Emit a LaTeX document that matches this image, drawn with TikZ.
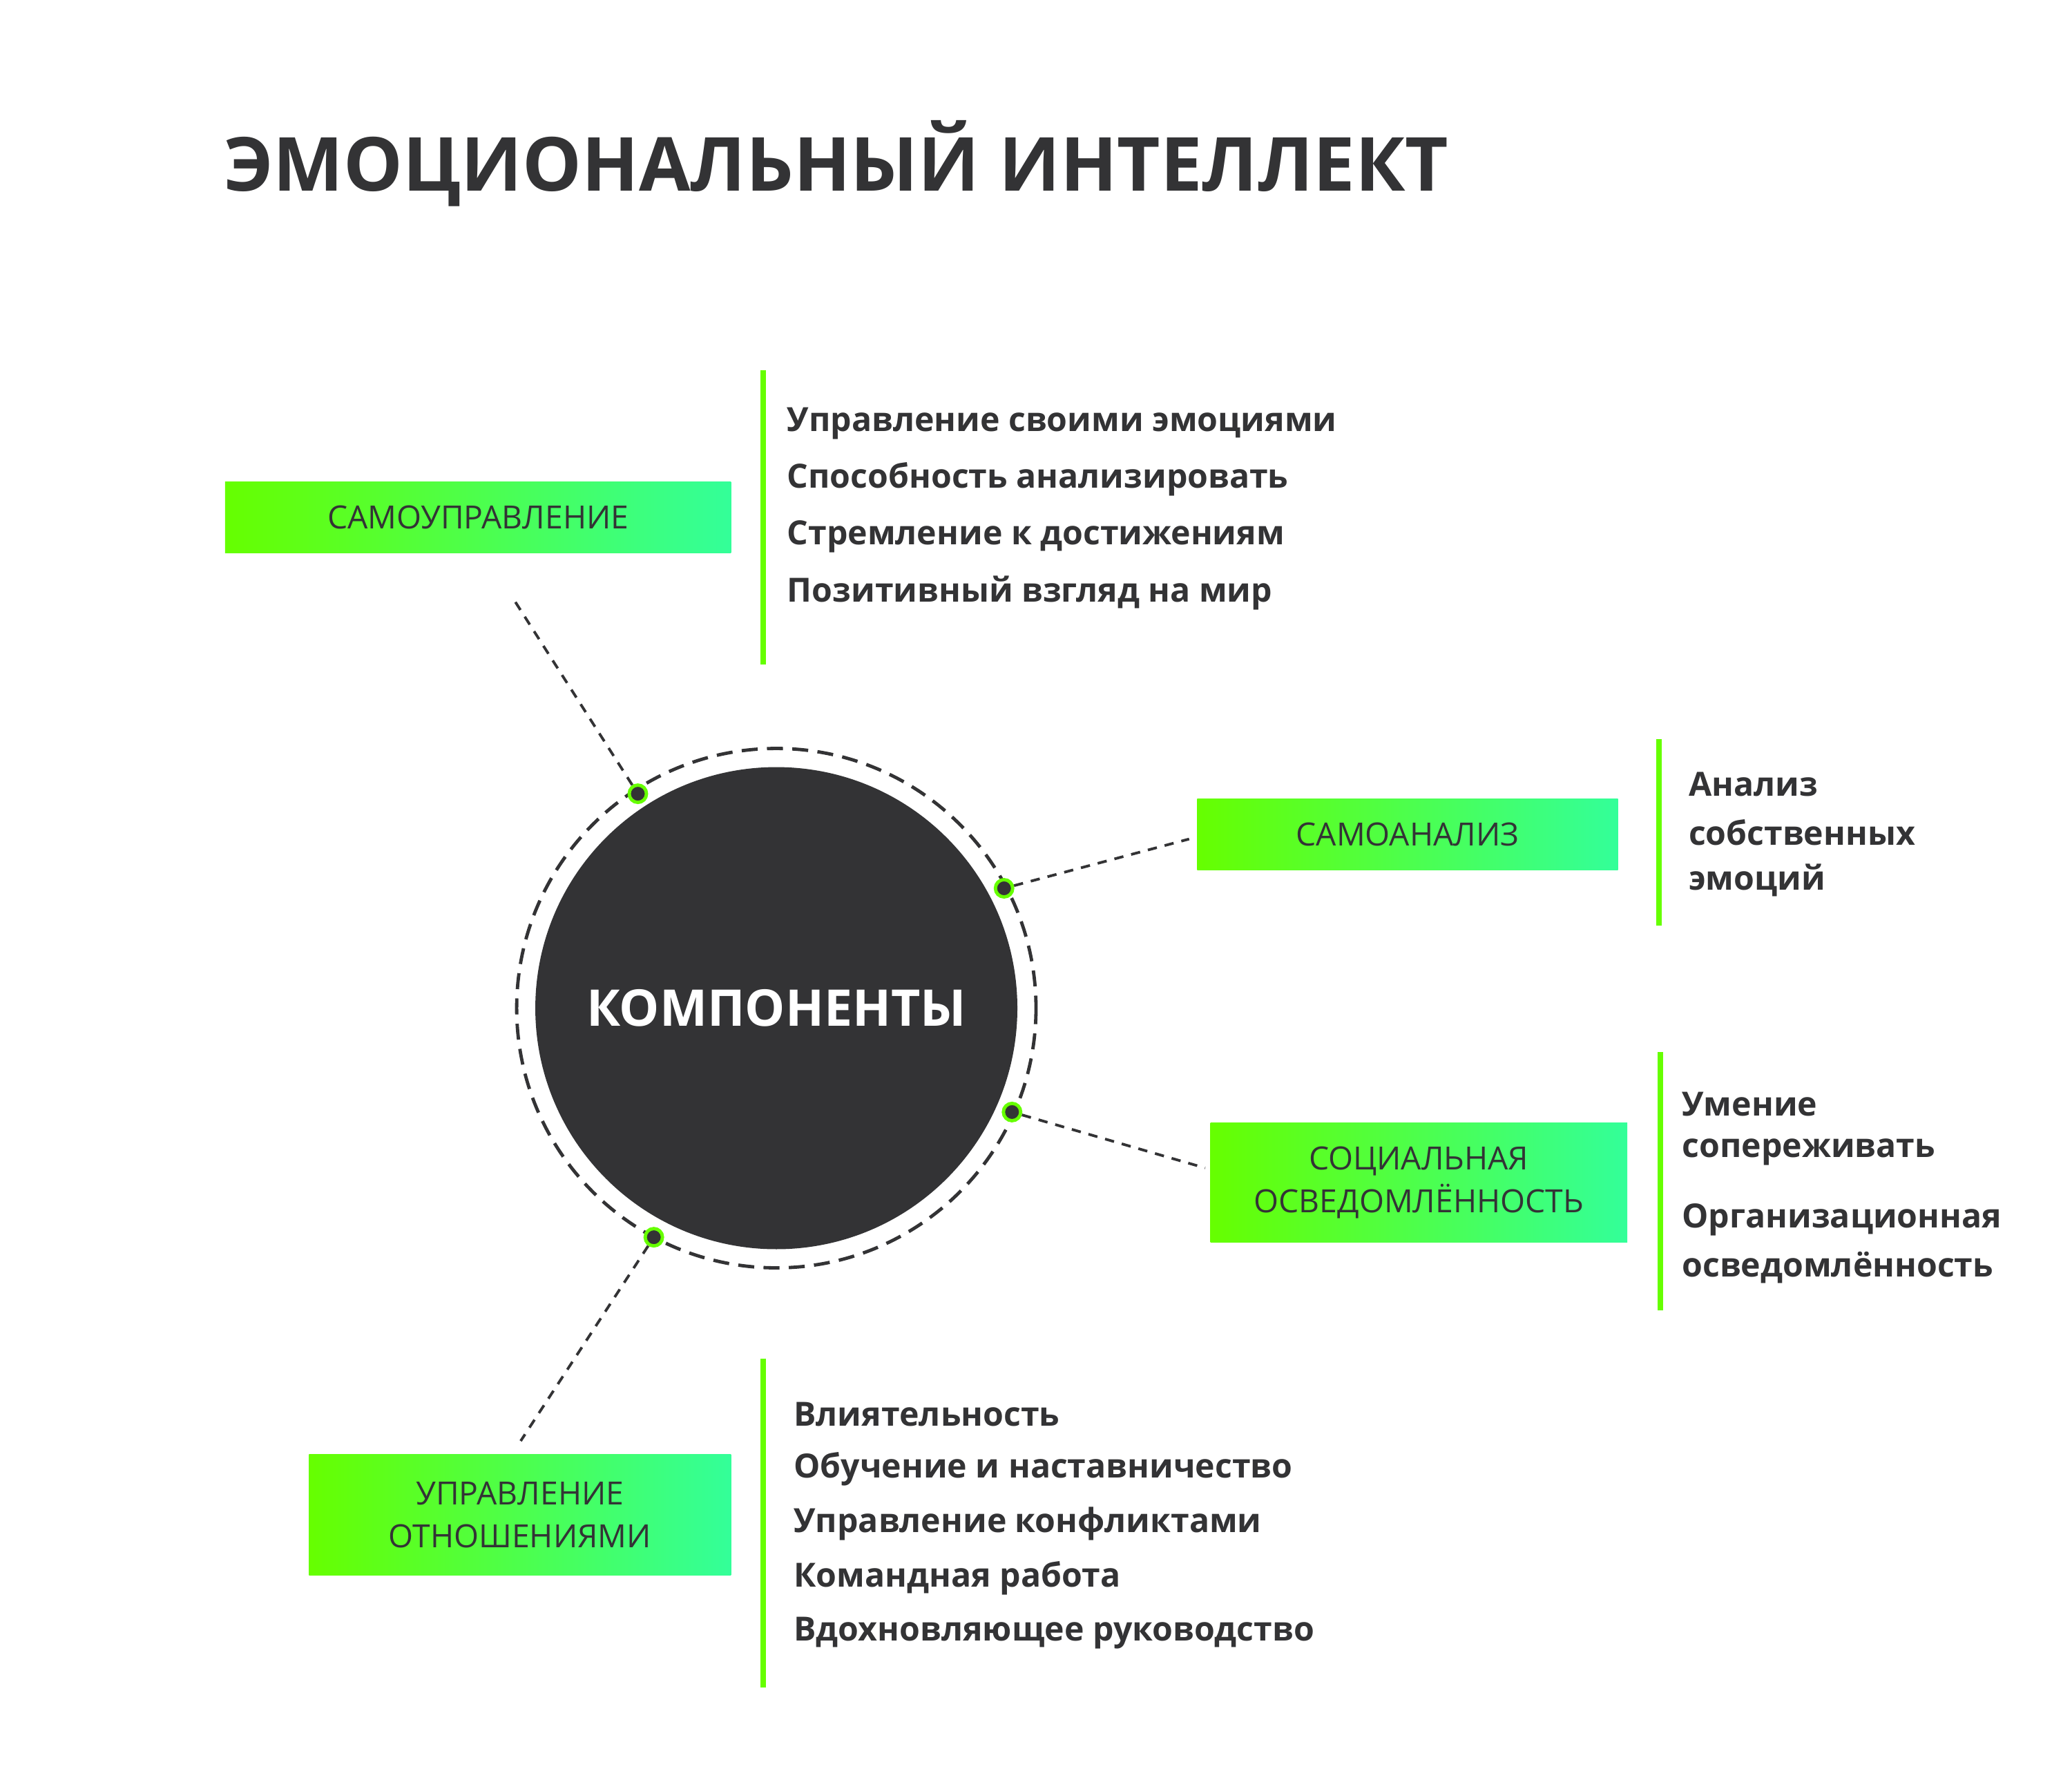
\documentclass[tikz,border=0pt]{standalone}
\usepackage{fontspec}
\setmainfont{Open Sans}
\definecolor{dark}{HTML}{333335}
\definecolor{gA}{HTML}{66FF00}
\definecolor{gB}{HTML}{33FF99}
\begin{document}
\begin{tikzpicture}[x=1pt,y=-1pt,
  box/.style={draw=none,left color=gA,right color=gB,text=dark,font=\fontsize{24}{32}\selectfont,align=center,inner sep=0pt},
  item/.style={anchor=west,text=dark,font=\bfseries\fontsize{25}{36}\selectfont,inner sep=0pt},
  bar/.style={draw=gA,line width=4pt},
  conn/.style={draw=dark,line width=2pt,dash pattern=on 7pt off 6pt},
  dot/.style={circle,fill=dark,draw=gA,line width=2.5pt,minimum size=13pt,inner sep=0pt}]
\useasboundingbox[fill=white] (0,0) rectangle (1556,1328);
\node[anchor=west,text=dark,font=\bfseries\fontsize{56}{60}\selectfont,inner sep=0pt] (title) at (168,123) {ЭМОЦИОНАЛЬНЫЙ ИНТЕЛЛЕКТ};
\node[circle,fill=dark,minimum size=362pt,inner sep=0pt,text=white,font=\bfseries\fontsize{38}{40}\selectfont] (c) at (583,757) {КОМПОНЕНТЫ};
\draw[dark,line width=2.5pt,dash pattern=on 12pt off 7pt] (c.center) circle (195);
% boxes
\node[box,minimum width=380pt,minimum height=53pt] (b1) at (359,388.5) {САМОУПРАВЛЕНИЕ};
\node[box,minimum width=316pt,minimum height=53pt] (b2) at (1057,626.5) {САМОАНАЛИЗ};
\node[box,minimum width=313pt,minimum height=90pt] (b3) at (1065.5,888) {СОЦИАЛЬНАЯ\\ОСВЕДОМЛЁННОСТЬ};
\node[box,minimum width=317pt,minimum height=91pt] (b4) at (390.5,1137.5) {УПРАВЛЕНИЕ\\ОТНОШЕНИЯМИ};
% dots and connectors
\node[dot] (d1) at (479,596) {};
\node[dot] (d2) at (754,667) {};
\node[dot] (d3) at (760,835) {};
\node[dot] (d4) at (491,929) {};
\coordinate (e1) at (387,452);
\coordinate (e2) at (893,630);
\coordinate (e3) at (905,877);
\coordinate (e4) at (391,1082);
\draw[conn] (d1) -- (e1);
\draw[conn] (d2) -- (e2);
\draw[conn] (d3) -- (e3);
\draw[conn] (d4) -- (e4);
% bars
\draw[bar] (573,278) coordinate (t1) -- (573,499) coordinate (u1);
\draw[bar] (1246,555) coordinate (t2) -- (1246,695) coordinate (u2);
\draw[bar] (1247,790) coordinate (t3) -- (1247,984) coordinate (u3);
\draw[bar] (573,1020) coordinate (t4) -- (573,1267) coordinate (u4);
% items
\node[item] (i11) at (591,318) {Управление своими эмоциями};
\node[item] (i12) at (591,360) {Способность анализировать};
\node[item] (i13) at (591,403) {Стремление к достижениям};
\node[item] (i14) at (591,445) {Позитивный взгляд на мир};
\node[item] (i21) at (1268,589) {Анализ};
\node[item] (i22) at (1268,625) {собственных};
\node[item] (i23) at (1268,661) {эмоций};
\node[item] (i31) at (1263,829) {Умение};
\node[item] (i32) at (1263,865) {сопереживать};
\node[item] (i33) at (1263,916) {Организационная};
\node[item] (i34) at (1263,952) {осведомлённость};
\node[item] (i41) at (596,1062) {Влиятельность};
\node[item] (i42) at (596,1103) {Обучение и наставничество};
\node[item] (i43) at (596,1144) {Управление конфликтами};
\node[item] (i44) at (596,1185) {Командная работа};
\node[item] (i45) at (596,1226) {Вдохновляющее руководство};
\end{tikzpicture}
\end{document}
